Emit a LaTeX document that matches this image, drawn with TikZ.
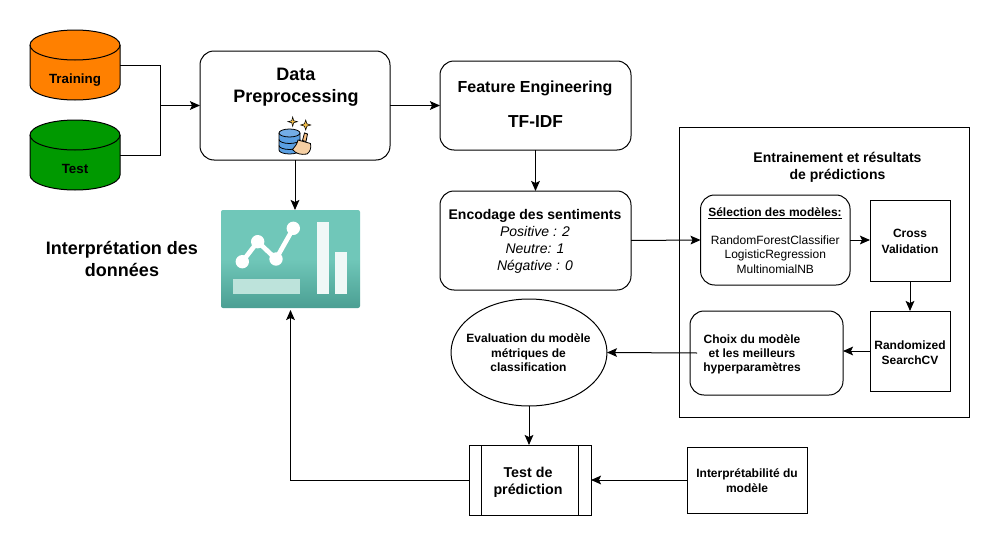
\documentclass[tikz,border=0pt]{standalone}
\usepackage{fontspec}
\setmainfont{Liberation Sans}
\usetikzlibrary{shapes.geometric,arrows.meta,calc,shadings}
\newlength\pxu
\setlength\pxu{0.75pt}
\definecolor{orangecyl}{HTML}{FF8000}
\definecolor{greencyl}{HTML}{009900}
\definecolor{tealtop}{HTML}{70C7B9}
\definecolor{tealbot}{HTML}{4B9F93}
\definecolor{tealsoft}{HTML}{BDE3DB}
\definecolor{barwhite}{HTML}{F0F8F7}
\definecolor{dbblue}{HTML}{5A9FE2}
\definecolor{brushtan}{HTML}{F5CFA3}
\definecolor{spark}{HTML}{F5C04A}
\newcommand{\cylshape}[3]{%
  \filldraw[draw=black,line width=0.75pt,fill=#3]
    (#1-45,#2-20) arc[start angle=180,end angle=0,x radius=45,y radius=-15]
    -- (#1+45,#2+20) arc[start angle=0,end angle=-180,x radius=45,y radius=-15] -- cycle;
  \draw[black,line width=0.75pt]
    (#1-45,#2-20) arc[start angle=180,end angle=360,x radius=45,y radius=-15];
}
\tikzset{
  x=0.75pt,y=-0.75pt,
  every node/.style={inner sep=0pt,outer sep=0pt,align=center,text=black},
  line/.style={draw=black,line width=0.75pt},
  arrow/.style={line,-{Stealth[length=7.5pt,width=6.5pt,inset=1.5pt]}},
  rbox/.style={line,rectangle,rounded corners=#1\pxu},
  sbox/.style={line,rectangle},
  cylzone/.style={rectangle,minimum width=90\pxu,minimum height=70\pxu},
  big/.style={font=\fontsize{13.5pt}{15pt}\bfseries\selectfont},
  smallb/.style={font=\fontsize{9pt}{11pt}\bfseries\selectfont},
}
\begin{document}
\begin{tikzpicture}
\useasboundingbox (0,0) rectangle (1000,546);
\fill[white] (0,0) rectangle (1000,546);

% data sources
\cylshape{75}{65}{orangecyl}
\cylshape{75}{155}{greencyl}
\node[cylzone,font=\fontsize{10pt}{12pt}\bfseries\selectfont,text depth=0pt] (train) at (75,65) {\raisebox{-18\pxu}{Training}};
\node[cylzone,font=\fontsize{10pt}{12pt}\bfseries\selectfont,text depth=0pt] (test) at (75,155) {\raisebox{-18\pxu}{Test}};

% main boxes
\node[rbox=14,minimum width=190\pxu,minimum height=109\pxu] (prep) at (295,105.5) {};
\node[big] (prepT) at (296,87) {Data\\[1.5pt]Preprocessing};
\node[rbox=14,minimum width=191\pxu,minimum height=89\pxu] (feat) at (535.5,105.5) {};
\node[font=\fontsize{12pt}{14pt}\bfseries\selectfont] (featA) at (535,88.5) {Feature Engineering};
\node[font=\fontsize{13pt}{14pt}\bfseries\selectfont] (featB) at (535.5,122) {TF-IDF};
\node[rbox=14,minimum width=191\pxu,minimum height=99\pxu] (enc) at (535.5,240.5) {};
\node[font=\fontsize{10.5pt}{12.6pt}\bfseries\selectfont] (encA) at (535,216) {Encodage des sentiments};
\node[font=\fontsize{10.5pt}{12.6pt}\itshape\selectfont] (encB) at (535,250) {Positive : 2\\Neutre: 1\\Négative : 0};

% dashboard picture
\node[rectangle,minimum width=139\pxu,minimum height=98\pxu,rounded corners=2\pxu,
      top color=tealtop,bottom color=tealbot,middle color=tealtop,shading angle=0] (chart) at (290.5,259) {};
\fill[tealsoft] (233.3,279.3) rectangle (299.7,294);
\fill[barwhite] (317,222) rectangle (328.7,294);
\fill[barwhite] (335,251.7) rectangle (346.7,294);
\draw[white,line width=3.5pt] (242.3,261.7) -- (257.7,241.7) -- (276,259) -- (293.3,228.3);
\foreach \cx/\cy in {242.3/261.7,257.7/241.7,276/259,293.3/228.3}
  \fill[white] (\cx,\cy) circle (6.7);

\node[big] (interp) at (122,259) {Interprétation des\\[1.5pt]données};

% database and brush icon
\begin{scope}[line width=0.6pt]
  \draw[fill=dbblue] (279,133) -- (279,150) arc[start angle=180,end angle=360,x radius=10.5,y radius=-4] -- (300,133);
  \draw[fill=dbblue!85!white] (279,133) arc[start angle=180,end angle=-180,x radius=10.5,y radius=4];
  \draw (279,139.5) arc[start angle=180,end angle=360,x radius=10.5,y radius=-4];
  \draw (279,145.5) arc[start angle=180,end angle=360,x radius=10.5,y radius=-4];
  \draw[fill=brushtan!80!orange] (304.5,133) -- (307.5,134) -- (306,141.5) -- (302.5,140.5) -- cycle;
  \draw[fill=brushtan] (298,140) -- (310.5,143.5) .. controls (311.5,148) and (310,152) .. (307,154)
     .. controls (301,155) and (296,154) .. (292.5,149.5) .. controls (295,147) and (297,144) .. (298,140) -- cycle;
  \filldraw[fill=spark,line width=0.4pt] (292.7,117) -- (293.7,120.7) -- (297.4,121.7) -- (293.7,122.7) -- (292.7,126.4) -- (291.7,122.7) -- (288,121.7) -- (291.7,120.7) -- cycle;
  \filldraw[fill=spark,line width=0.4pt] (305.7,120) -- (306.9,123.8) -- (310.7,125) -- (306.9,126.2) -- (305.7,130) -- (304.5,126.2) -- (300.7,125) -- (304.5,123.8) -- cycle;
\end{scope}

% training frame
\node[sbox,minimum width=289.5\pxu,minimum height=290\pxu] (frame) at (824.7,272) {};
\node[font=\fontsize{10.5pt}{12.8pt}\bfseries\selectfont] (frameT) at (837.5,167) {Entrainement et résultats\\de prédictions};

\node[rbox=14,minimum width=149.5\pxu,minimum height=90\pxu] (sel) at (775.3,240) {};
\node[font=\fontsize{9pt}{10pt}\bfseries\selectfont] (selA) at (775,213) {\underline{Sélection des modèles:}};
\node[font=\fontsize{9pt}{10.9pt}\selectfont] (selB) at (775.3,254.5) {RandomForestClassifier\\LogisticRegression\\MultinomialNB};
\node[sbox,minimum width=80\pxu,minimum height=81\pxu] (cross) at (910,240.5) {};
\node[smallb] (crossT) at (910,241.5) {Cross\\[0.6pt]Validation};
\node[sbox,minimum width=80\pxu,minimum height=80\pxu] (rand) at (910,351) {};
\node[smallb] (randT) at (910,352.5) {Randomized\\[0.6pt]SearchCV};
\node[rbox=14,minimum width=153\pxu,minimum height=84\pxu] (choix) at (766.5,353) {};
\node[font=\fontsize{9pt}{10.6pt}\bfseries\selectfont] (choixT) at (752,354) {Choix du modèle\\et les meilleurs\\hyperparamètres};
\coordinate (choixOut) at (697,353);

% evaluation and test
\node[line,ellipse,minimum width=156\pxu,minimum height=107\pxu] (eval) at (529,352.5) {};
\node[font=\fontsize{9pt}{10.9pt}\bfseries\selectfont] (evalT) at (528.5,353) {Evaluation du modèle\\métriques de\\classification};
\node[sbox,minimum width=122\pxu,minimum height=70\pxu] (tp) at (530,480) {};
\draw[line] (481,445) -- (481,515);
\draw[line] (578,445) -- (578,515);
\node[font=\fontsize{10.7pt}{12.8pt}\bfseries\selectfont] (tpT) at (528,482) {Test de\\prédiction};
\node[sbox,minimum width=120\pxu,minimum height=66\pxu] (inter) at (747,480) {};
\node[font=\fontsize{9pt}{11pt}\bfseries\selectfont] (interT) at (747,480.5) {Interprétabilité du\\modèle};

% connectors
\coordinate (merge) at (160,105.5);
\draw[line] (train.east) -| (merge);
\draw[line] (test.east) -| (merge);
\draw[arrow] (merge) -- (prep.west);
\draw[arrow] (prep.east) -- (feat.west);
\draw[arrow] (feat.south) -- (enc.north);
\draw[arrow] (prep.south) -- (prep.south |- chart.north);
\draw[arrow] (enc.east) -- (sel.west);
\draw[arrow] (sel.east) -- (sel.east -| cross.west);
\draw[arrow] (cross.south) -- (rand.north);
\draw[arrow] (rand.west) -- (rand.west -| choix.east);
\draw[arrow] (choixOut) -- (eval.east);
\draw[arrow] (eval.south) -- (eval.south |- tp.north);
\draw[arrow] (inter.west) -- (tp.east);
\draw[arrow] (tp.west) -| ($(chart.south)+(0,2)$);
\end{tikzpicture}
\end{document}
